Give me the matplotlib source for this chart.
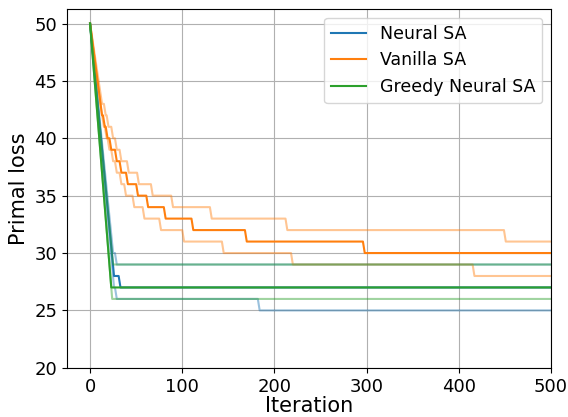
import matplotlib
matplotlib.use("Agg")
import matplotlib.pyplot as plt

# loss values: at iteration it[k] the loss becomes loss[k] (first point is the start)
neural_it = [0, 25, 32]
neural_loss = [50, 28, 27]
neural_hi_it = [0, 24, 28]
neural_hi_loss = [50, 30, 29]
neural_lo_it = [0, 25, 28, 183]
neural_lo_loss = [50, 27, 26, 25]

vanilla_it = [0, 12, 15, 18, 22, 28, 33, 40, 51, 62, 81, 111, 169, 297]
vanilla_loss = [50, 42, 41, 40, 39, 38, 37, 36, 35, 34, 33, 32, 31, 30]
vanilla_hi_it = [0, 12, 16, 19, 24, 28, 33, 41, 52, 67, 89, 131, 213, 450]
vanilla_hi_loss = [50, 43, 42, 41, 40, 39, 38, 37, 36, 35, 34, 33, 32, 31]
vanilla_lo_it = [0, 10, 12, 14, 17, 20, 24, 28, 33, 38, 47, 58, 76, 101, 144, 219, 416]
vanilla_lo_loss = [50, 43, 42, 41, 40, 39, 38, 37, 36, 35, 34, 33, 32, 31, 30, 29, 28]

greedy_it = [0, 22]
greedy_loss = [50, 27]
greedy_hi_it = [0, 24]
greedy_hi_loss = [50, 29]
greedy_lo_it = [0, 23]
greedy_lo_loss = [50, 26]

n_iter = 500


def path(it, loss):
    xs, ys = [it[0]], [loss[0]]
    for k in range(1, len(it)):
        if k > 1:
            xs.append(it[k] - 1)
            ys.append(loss[k - 1])
        xs.append(it[k] + 1)
        ys.append(loss[k])
    xs.append(n_iter)
    ys.append(loss[-1])
    return xs, ys


fig = plt.figure(figsize=(5.68, 4.17), dpi=100)
ax = fig.add_axes([0.118, 0.118, 0.852, 0.86])

series = [
    ("Neural SA", "tab:blue", (neural_it, neural_loss),
     [(neural_hi_it, neural_hi_loss), (neural_lo_it, neural_lo_loss)]),
    ("Vanilla SA", "tab:orange", (vanilla_it, vanilla_loss),
     [(vanilla_hi_it, vanilla_hi_loss), (vanilla_lo_it, vanilla_lo_loss)]),
    ("Greedy Neural SA", "tab:green", (greedy_it, greedy_loss),
     [(greedy_hi_it, greedy_hi_loss), (greedy_lo_it, greedy_lo_loss)]),
]

for name, c, main, bands in series:
    for b in bands:
        ax.plot(*path(*b), color=c, lw=1.5, alpha=0.45)
    ax.plot(*path(*main), color=c, lw=1.5, label=name)

ax.set_xlim(-25, 500)
ax.set_ylim(20, 51.25)
ax.set_xticks([0, 100, 200, 300, 400, 500])
ax.set_yticks([20, 25, 30, 35, 40, 45, 50])
ax.tick_params(labelsize=13)
ax.set_xlabel("Iteration", fontsize=15, labelpad=0)
ax.set_ylabel("Primal loss", fontsize=15)
ax.grid(True)
ax.legend(loc="upper right", fontsize=12.5)

fig.savefig("out.png")
